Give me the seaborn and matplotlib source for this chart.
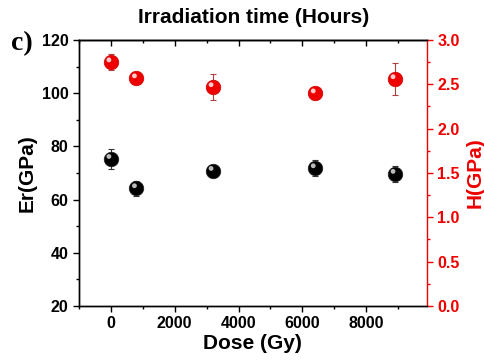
import matplotlib
matplotlib.use('Agg')
import matplotlib.pyplot as plt
import numpy as np
import pandas as pd
import seaborn as sns
from matplotlib.ticker import MultipleLocator, FormatStrFormatter

# data
dose = [0, 800, 3200, 6400, 8900]
er_vals = [75.3, 64.3, 70.8, 71.8, 69.7]
er_err = [3.8, 2.8, 1.0, 3.0, 3.0]
h_vals = [2.75, 2.57, 2.47, 2.40, 2.56]
h_err = [0.09, 0.03, 0.15, 0.03, 0.18]

df = pd.DataFrame({'Dose': dose, 'Er': er_vals, 'Er_err': er_err,
                   'H': h_vals, 'H_err': h_err})

sns.set_style('white')
plt.rcParams['font.family'] = ['Liberation Sans', 'DejaVu Sans']
plt.rcParams['font.weight'] = 'bold'
for k in ['text.color', 'axes.labelcolor', 'xtick.color', 'ytick.color']:
    plt.rcParams[k] = 'black'

red = '#ee0000'

fig = plt.figure(figsize=(4.84, 3.63), dpi=100)
ax = fig.add_axes([0.163, 0.157, 0.719, 0.733])
ax2 = ax.twinx()

# Er (left axis, black)
ax.errorbar(df['Dose'], df['Er'], yerr=df['Er_err'], fmt='none',
            ecolor='#333333', elinewidth=0.8, capsize=2.5, capthick=0.8, zorder=2)
sns.scatterplot(data=df, x='Dose', y='Er', ax=ax, color='black', s=110,
                edgecolor='#222222', linewidth=0.5, zorder=3, legend=False)
ax.scatter(df['Dose'] - 60, df['Er'] + 0.9, s=12, color='#bbbbbb',
           edgecolor='none', zorder=4)

# H (right axis, red)
ax2.errorbar(df['Dose'], df['H'], yerr=df['H_err'], fmt='none',
             ecolor='#b04040', elinewidth=0.8, capsize=2.5, capthick=0.8, zorder=2)
sns.scatterplot(data=df, x='Dose', y='H', ax=ax2, color=red, s=110,
                edgecolor='#cc0000', linewidth=0.5, zorder=3, legend=False)
ax2.scatter(df['Dose'] - 60, df['H'] + 0.025, s=12, color='#ffcccc',
            edgecolor='none', zorder=4)

ax.set_xlim(-1000, 9900)
ax.set_ylim(20, 120)
ax2.set_ylim(0, 3.0)

ax.xaxis.set_major_locator(MultipleLocator(2000))
ax.xaxis.set_minor_locator(MultipleLocator(1000))
ax.yaxis.set_major_locator(MultipleLocator(20))
ax.yaxis.set_minor_locator(MultipleLocator(10))
ax2.yaxis.set_major_locator(MultipleLocator(0.5))
ax2.yaxis.set_minor_locator(MultipleLocator(0.25))
ax2.yaxis.set_major_formatter(FormatStrFormatter('%.1f'))

ax.tick_params(axis='x', which='both', direction='out', bottom=True,
               labelsize=11.5, width=1.0)
ax.tick_params(axis='x', which='major', length=4)
ax.tick_params(axis='x', which='minor', length=2.5)
ax.tick_params(axis='y', which='both', direction='out', left=True,
               labelsize=11.5, width=1.0)
ax.tick_params(axis='y', which='major', length=4)
ax.tick_params(axis='y', which='minor', length=2.5)
ax2.tick_params(axis='y', which='both', direction='out', right=True,
                labelsize=11.5, colors=red, width=1.0)
ax2.tick_params(axis='y', which='major', length=4)
ax2.tick_params(axis='y', which='minor', length=2.5)

# inward ticks on the top edge
top = ax.secondary_xaxis('top')
top.xaxis.set_major_locator(MultipleLocator(2000))
top.xaxis.set_minor_locator(MultipleLocator(1000))
top.tick_params(which='both', direction='in', labeltop=False, width=1.0)
top.tick_params(which='major', length=4)
top.tick_params(which='minor', length=2.5)
top.spines['top'].set_linewidth(1.0)

for s in ['left', 'bottom', 'top']:
    ax.spines[s].set_color('black')
    ax.spines[s].set_linewidth(1.0)
    ax2.spines[s].set_color('black')
    ax2.spines[s].set_linewidth(1.0)
ax.spines['right'].set_visible(False)
ax2.spines['right'].set_color(red)
ax2.spines['right'].set_linewidth(1.0)

for lbl in ax.get_xticklabels() + ax.get_yticklabels() + ax2.get_yticklabels():
    lbl.set_fontweight('bold')

ax.set_xlabel('Dose (Gy)', fontsize=15, fontweight='bold', labelpad=2)
ax.set_ylabel('Er(GPa)', fontsize=15, fontweight='bold', labelpad=4)
ax2.set_ylabel('H(GPa)', fontsize=15, fontweight='bold', color=red,
               labelpad=4)
fig.suptitle('Irradiation time (Hours)', fontsize=15, fontweight='bold',
             x=0.525, y=0.978)
fig.text(0.022, 0.862, 'c)', fontsize=20, fontweight='bold',
         family=['Liberation Serif', 'DejaVu Serif'])

fig.savefig('out.png', dpi=100)
